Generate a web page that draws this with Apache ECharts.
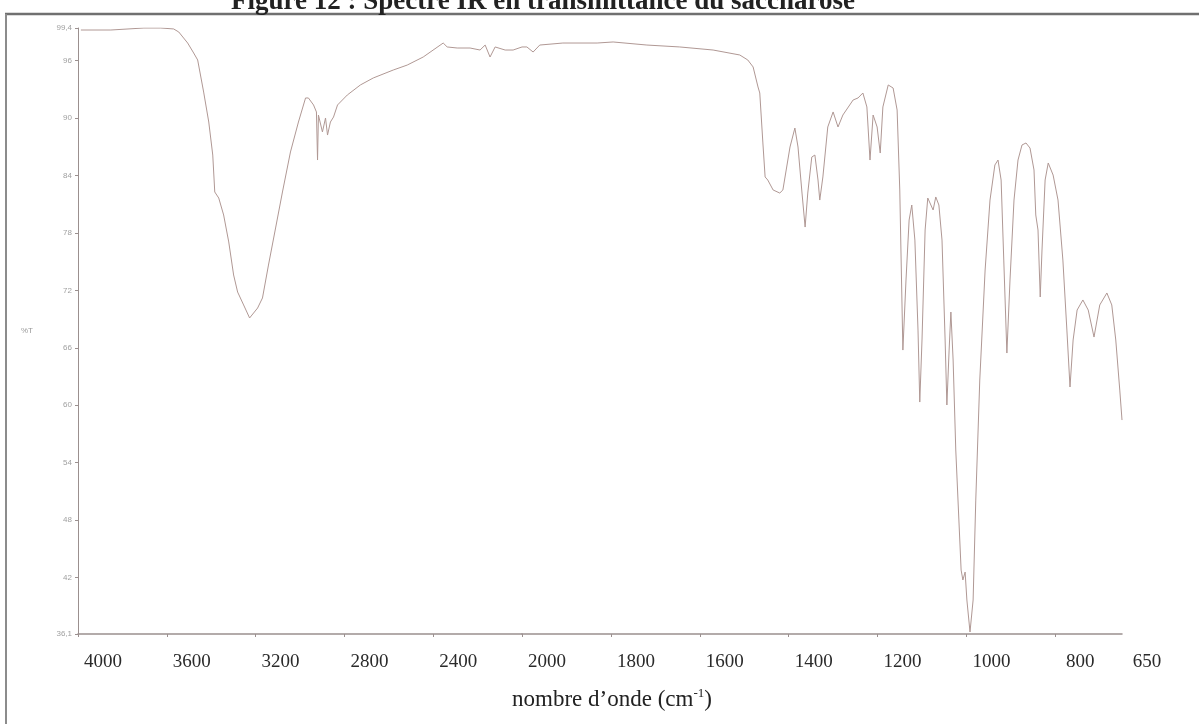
<!DOCTYPE html>
<html>
<head>
<meta charset="utf-8">
<title>Spectre IR du saccharose</title>
<script src="https://cdn.jsdelivr.net/npm/echarts@6/dist/echarts.min.js"></script>
<style>
  html, body { margin: 0; padding: 0; background: #fff; }
  #chart { width: 1199px; height: 724px; }
</style>
</head>
<body>
<div id="chart"></div>
<script>
const wavenumbers = [
  3987, 3852, 3703, 3627, 3569, 3546, 3506, 3479, 3461, 3434,
  3411, 3393, 3384, 3366, 3344, 3321, 3299, 3281, 3254, 3227,
  3191, 3169, 3142, 3110, 3079, 3043, 3007, 2975, 2962, 2939,
  2926, 2921, 2917, 2899, 2885, 2876, 2863, 2849, 2831, 2787,
  2728, 2670, 2580, 2517, 2445, 2355, 2337, 2292, 2234, 2189,
  2166, 2144, 2121, 2076, 2040, 2000,
  1989, 1975, 1960, 1908, 1831, 1795, 1719, 1645, 1570, 1510,
  1492, 1480, 1469, 1465, 1458, 1453, 1447, 1435, 1420, 1413,
  1397, 1386, 1379, 1370, 1363, 1357, 1348, 1341, 1334, 1330,
  1323, 1312, 1300, 1289, 1278, 1255, 1244, 1233, 1224, 1217,
  1210, 1201, 1194, 1188, 1176, 1165, 1156, 1150, 1143, 1136,
  1129, 1123, 1116, 1109, 1105, 1100, 1093, 1087, 1080, 1075,
  1069, 1062, 1055, 1048, 1044, 1039, 1035, 1030, 1024, 1017,
  1012, 1008, 1003, 999, 992, 985, 979, 970, 958, 947,
  936, 929, 922, 916, 909, 902, 893, 884, 875, 866,
  857, 848, 844, 839, 834, 830, 823, 816, 805, 794,
  783, 774, 767, 760, 751, 738, 726, 713, 700, 684,
  673, 664, 655, 650,
];
const transmittance = [
  99.19, 99.19, 99.4, 99.4, 99.3, 98.98, 97.83, 96.79, 96.06, 92.71,
  89.58, 86.13, 82.27, 81.64, 79.87, 77.05, 73.6, 71.82, 70.47, 69.11,
  70.15, 71.2, 74.64, 78.51, 82.27, 86.45, 89.58, 92.09, 92.09, 91.36,
  90.63, 85.61, 90.31, 88.54, 90.0, 88.22, 89.58, 90.1, 91.36, 92.4,
  93.45, 94.18, 95.01, 95.53, 96.37, 97.83, 97.42, 97.31, 97.31, 97.1,
  97.62, 96.37, 97.42, 97.1, 97.1, 97.42,
  97.42, 96.89, 97.62, 97.83, 97.83, 97.94, 97.62, 97.42, 97.1, 96.58,
  96.06, 95.33, 93.24, 92.61, 87.39, 83.84, 83.52, 82.48, 82.16, 82.48,
  86.97, 88.95, 86.97, 82.16, 78.61, 82.16, 85.92, 86.13, 83.52, 81.43,
  83.84, 89.06, 90.63, 89.06, 90.31, 91.88, 92.09, 92.61, 91.15, 85.61,
  90.31, 89.06, 86.34, 91.15, 93.45, 93.13, 90.83, 82.48, 65.76, 73.08,
  79.34, 80.91, 77.25, 67.85, 60.33, 66.81, 78.3, 81.64, 80.91, 80.39,
  81.75, 80.91, 77.25, 66.81, 60.02, 65.76, 69.73, 64.72, 55.32, 48.01,
  42.78, 41.74, 42.57, 39.65, 36.31, 39.65, 50.09, 62.63, 74.12, 81.43,
  85.09, 85.61, 83.52, 75.16, 65.45, 73.08, 81.43, 85.61, 87.18, 87.39,
  86.86, 84.57, 79.87, 78.3, 71.3, 76.21, 83.52, 85.3, 84.04, 81.43,
  75.16, 67.85, 61.9, 66.81, 69.94, 70.99, 69.94, 67.12, 70.47, 71.72,
  70.47, 66.81, 61.58, 58.45,
];
const xLabelsLow = [1800, 1600, 1400, 1200, 1000, 800, 650];
const xTicksLow = [1800, 1600, 1400, 1200, 1000, 800];
const yTicks = [36.1, 42, 48, 54, 60, 66, 72, 78, 84, 90, 96, 99.4];

const points = wavenumbers.map((w, i) => [w, transmittance[i]]);
// l'échelle change à 2000 cm-1 : deux grilles côte à côte
const highPart = points.filter((p) => p[0] >= 2000);
const lowPart = points.filter((p) => p[0] <= 2000);

const serif = "'Liberation Serif', 'DejaVu Serif', serif";
const axisColor = "#9b908f";
const lineColor = "#b09894";

const xLabel = {
  margin: 19,
  padding: [0, 0, 0, 50],
  fontFamily: serif,
  fontSize: 19,
  color: "#2a2a2a",
  formatter: (v) => String(v),
};

const option = {
  backgroundColor: "#fff",
  animation: false,
  title: [
    {
      text: "Figure 12 : Spectre IR en transmittance du saccharose",
      left: 226,
      top: -16,
      textStyle: {
        fontFamily: serif,
        fontSize: 27,
        fontWeight: "bold",
        color: "#222",
      },
    },
    {
      text: "nombre d\u2019onde (cm{sup|-1})",
      left: 507,
      top: 682,
      textStyle: {
        fontFamily: serif,
        fontSize: 23,
        fontWeight: "normal",
        color: "#222",
        rich: {
          sup: {
            fontFamily: serif,
            fontSize: 13,
            color: "#222",
            padding: [0, 0, 13, 0],
          },
        },
      },
    },
  ],
  grid: [
    { left: 78, top: 28, width: 444, height: 606 },
    { left: 522, top: 28, width: 600, height: 606 },
  ],
  xAxis: [
    {
      gridIndex: 0,
      type: "value",
      inverse: true,
      min: 2000,
      max: 4000,
      interval: 400,
      axisLine: { lineStyle: { color: axisColor, width: 1.5 } },
      axisTick: { length: 3, lineStyle: { color: axisColor } },
      splitLine: { show: false },
      axisLabel: xLabel,
    },
    {
      gridIndex: 1,
      type: "value",
      inverse: true,
      min: 650,
      max: 2000,
      axisLine: { lineStyle: { color: axisColor, width: 1.5 } },
      axisTick: {
        length: 3,
        customValues: xTicksLow,
        lineStyle: { color: axisColor },
      },
      splitLine: { show: false },
      axisLabel: Object.assign({ customValues: xLabelsLow }, xLabel),
    },
  ],
  yAxis: [
    {
      gridIndex: 0,
      type: "value",
      min: 36.1,
      max: 99.4,
      name: "%T",
      nameLocation: "middle",
      nameGap: 45,
      nameRotate: 0,
      nameTextStyle: { fontSize: 8, color: "#9a9a9a" },
      axisLine: { show: true, lineStyle: { color: axisColor } },
      axisTick: {
        show: true,
        length: 3,
        customValues: yTicks,
        lineStyle: { color: axisColor },
      },
      splitLine: { show: false },
      axisLabel: {
        customValues: yTicks,
        margin: 6,
        fontSize: 8,
        color: "#a0a0a0",
        formatter: (v) => String(v).replace(".", ","),
      },
    },
    {
      gridIndex: 1,
      type: "value",
      min: 36.1,
      max: 99.4,
      show: false,
    },
  ],
  series: [
    {
      type: "line",
      xAxisIndex: 0,
      yAxisIndex: 0,
      data: highPart,
      showSymbol: false,
      lineStyle: { width: 1, color: lineColor },
    },
    {
      type: "line",
      xAxisIndex: 1,
      yAxisIndex: 1,
      data: lowPart,
      showSymbol: false,
      lineStyle: { width: 1, color: lineColor },
    },
  ],
  graphic: [
    {
      type: "line",
      shape: { x1: 5, y1: 14, x2: 1199, y2: 14 },
      style: { stroke: "#707070", lineWidth: 2.5 },
    },
    {
      type: "line",
      shape: { x1: 6, y1: 14, x2: 6, y2: 724 },
      style: { stroke: "#8c8c8c", lineWidth: 2 },
    },
  ],
};

const chart = echarts.init(document.getElementById("chart"));
chart.setOption(option);
</script>
</body>
</html>
